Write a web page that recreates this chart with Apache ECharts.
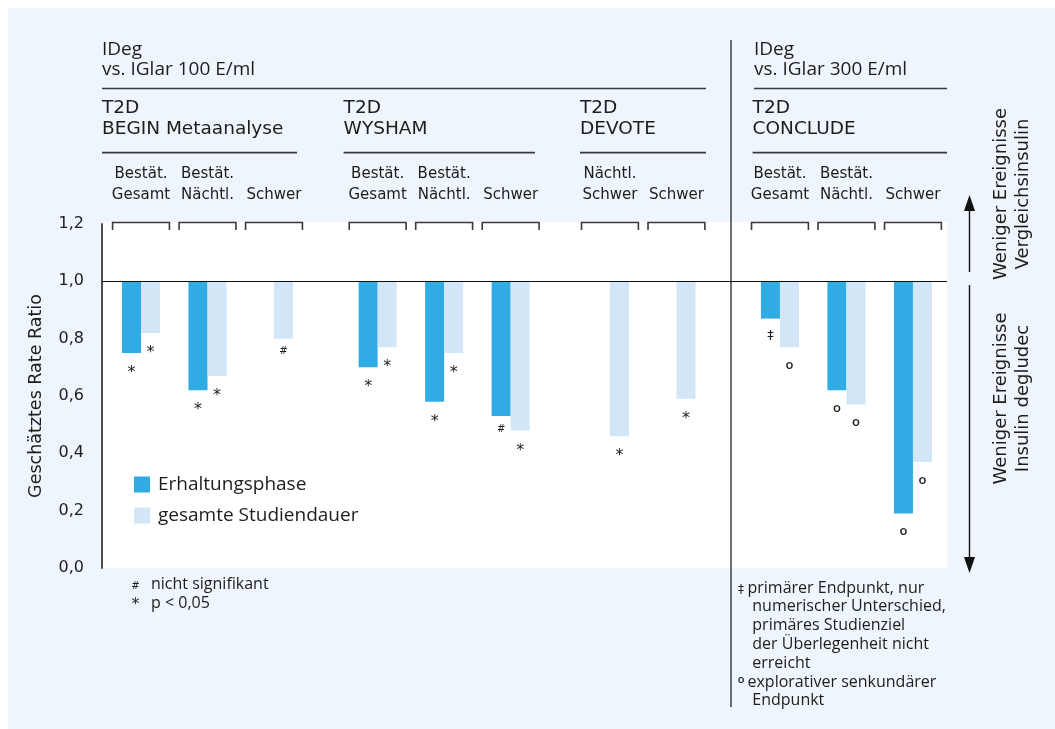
<!DOCTYPE html>
<html>
<head>
<meta charset="utf-8">
<script src="https://cdn.jsdelivr.net/npm/echarts@6/dist/echarts.min.js"></script>
<style>
  html, body { margin: 0; padding: 0; background: #ffffff; }
  #wrap { position: relative; width: 1055px; height: 729px; overflow: hidden; }
  #panel { position: absolute; left: 8px; top: 8px; right: 0; bottom: 0; background: #eef5fc; }
  #chart { position: absolute; left: 0; top: 0; width: 1055px; height: 729px; }
</style>
</head>
<body>
<div id="wrap"><div id="panel"></div><div id="chart"></div></div>
<script>
// ---------- data ----------
const yTicks = [0, 0.2, 0.4, 0.6, 0.8, 1.0, 1.2];
const baseline = 1.0;                       // rate ratio of 1 = no difference
const seriesNames = ['Erhaltungsphase', 'gesamte Studiendauer'];
const yAxisTitle = 'Geschätztes Rate Ratio';
const comparisons = ['IDeg\nvs. IGlar 100 E/ml', 'IDeg\nvs. IGlar 300 E/ml'];
const studies = ['T2D\nBEGIN Metaanalyse', 'T2D\nWYSHAM', 'T2D\nDEVOTE', 'T2D\nCONCLUDE'];

const beginEndpoints = ['Bestät.\nGesamt', 'Bestät.\nNächtl.', 'Schwer'];
const beginMaintenance = [0.75, 0.62, null];
const beginTotal = [0.82, 0.67, 0.80];
const beginMaintenanceSig = ['*', '*', ''];
const beginTotalSig = ['*', '*', '#'];

const wyshamEndpoints = ['Bestät.\nGesamt', 'Bestät.\nNächtl.', 'Schwer'];
const wyshamMaintenance = [0.70, 0.58, 0.53];
const wyshamTotal = [0.77, 0.75, 0.48];
const wyshamMaintenanceSig = ['*', '*', '#'];
const wyshamTotalSig = ['*', '*', '*'];

const devoteEndpoints = ['Nächtl.\nSchwer', 'Schwer'];
const devoteMaintenance = [null, null];
const devoteTotal = [0.46, 0.59];
const devoteMaintenanceSig = ['', ''];
const devoteTotalSig = ['*', '*'];

const concludeEndpoints = ['Bestät.\nGesamt', 'Bestät.\nNächtl.', 'Schwer'];
const concludeMaintenance = [0.87, 0.62, 0.19];
const concludeTotal = [0.77, 0.57, 0.37];
const concludeMaintenanceSig = ['‡', 'o', 'o'];
const concludeTotalSig = ['o', 'o', 'o'];

const sideLabels = ['Weniger Ereignisse\nVergleichsinsulin', 'Weniger Ereignisse\nInsulin degludec'];
const notesLeft = [['#', 'nicht signifikant'], ['*', 'p < 0,05']];
const notesRight = [
  ['‡', ['primärer Endpunkt, nur', 'numerischer Unterschied,', 'primäres Studienziel', 'der Überlegenheit nicht', 'erreicht']],
  ['o', ['explorativer senkundärer', 'Endpunkt']]
];

// ---------- styling ----------
const DARK = '#31abe3';
const LIGHT = '#d2e6f8';
const INK = '#1d1d1b';
const RULE = '#3a3a3a';
const HEAD = '"DejaVu Sans", sans-serif';
const BODY = '"Open Sans", sans-serif';
const BAR_FRACTION = 0.286;
const BRACKET_FRACTION = 0.855;
const MARK = {
  '*': { font: '16px "DejaVu Sans"', dy: 20 },
  '#': { font: '10px "DejaVu Sans"', dy: 13 },
  '‡': { font: '13px "DejaVu Sans"', dy: 17 },
  'o': { font: '600 13px "Open Sans"', dy: 18 }
};

const blocks = [
  { cats: beginEndpoints, m: beginMaintenance, t: beginTotal, ms: beginMaintenanceSig, ts: beginTotalSig },
  { cats: wyshamEndpoints, m: wyshamMaintenance, t: wyshamTotal, ms: wyshamMaintenanceSig, ts: wyshamTotalSig },
  { cats: devoteEndpoints, m: devoteMaintenance, t: devoteTotal, ms: devoteMaintenanceSig, ts: devoteTotalSig },
  { cats: concludeEndpoints, m: concludeMaintenance, t: concludeTotal, ms: concludeMaintenanceSig, ts: concludeTotalSig }
];

// layout of the plot and of each study block
const PLOT = { left: 102, right: 108, top: 224, bottom: 161 };
const blockGrids = [
  { left: 107.75, width: 199.5 },
  { left: 344.4, width: 199.5 },
  { left: 576.7, width: 133 },
  { left: 746.7, width: 199.5 }
];

const fmt = v => v.toFixed(1).replace('.', ',');

function barRenderer(side, values, sigs) {
  return function (params, api) {
    const v = values[params.dataIndex];
    if (v == null) return null;
    const cat = api.value(0);
    const band = api.size([1, 0])[0];
    const w = band * BAR_FRACTION;
    const end = api.coord([cat, v]);
    const base = api.coord([cat, baseline]);
    const x = side < 0 ? end[0] - w : end[0];
    const children = [{
      type: 'rect',
      shape: { x: x, y: base[1], width: w, height: end[1] - base[1] },
      style: { fill: side < 0 ? DARK : LIGHT }
    }];
    const s = sigs[params.dataIndex];
    if (s) {
      children.push({
        type: 'text',
        style: {
          text: s, x: x + w / 2, y: end[1] + MARK[s].dy,
          align: 'center', verticalAlign: 'middle', font: MARK[s].font, fill: INK
        }
      });
    }
    return { type: 'group', children: children };
  };
}

function bracketRenderer(params, api) {
  const cat = api.value(0);
  const band = api.size([1, 0])[0];
  const hw = band * BRACKET_FRACTION / 2;
  const top = api.coord([cat, yTicks[yTicks.length - 1]]);
  const y = top[1] - 1.5;
  return {
    type: 'polyline',
    shape: { points: [[top[0] - hw, y + 7.5], [top[0] - hw, y], [top[0] + hw, y], [top[0] + hw, y + 7.5]] },
    style: { stroke: RULE, lineWidth: 1.6, fill: null }
  };
}

const grids = [Object.assign({ show: true, backgroundColor: '#ffffff', borderWidth: 0 }, PLOT)]
  .concat(blockGrids.map(g => ({ left: g.left, width: g.width, top: PLOT.top, bottom: PLOT.bottom })));

const xAxes = [{ gridIndex: 0, type: 'value', min: 0, max: 1, show: false }]
  .concat(blocks.map((b, i) => ({
    gridIndex: i + 1, type: 'category', data: b.cats, position: 'top',
    axisLine: { show: false }, axisTick: { show: false }, splitLine: { show: false },
    axisLabel: { interval: 0, margin: 18, fontFamily: HEAD, fontSize: 15, lineHeight: 21, color: INK }
  })));

const yMin = yTicks[0], yMax = yTicks[yTicks.length - 1];
const yAxes = [{
  gridIndex: 0, type: 'value', min: yMin, max: yMax, interval: yTicks[1] - yTicks[0],
  axisLine: { show: true, lineStyle: { color: '#4d4d4d', width: 2 } },
  axisTick: { show: false }, splitLine: { show: false },
  axisLabel: { formatter: fmt, fontFamily: HEAD, fontSize: 16, color: INK, margin: 18 },
  name: yAxisTitle, nameLocation: 'middle', nameRotate: 90, nameGap: 57,
  nameTextStyle: { fontFamily: HEAD, fontSize: 17.5, color: INK }
}].concat(blocks.map((b, i) => ({ gridIndex: i + 1, type: 'value', min: yMin, max: yMax, show: false })));

const series = [{
  type: 'custom', xAxisIndex: 0, yAxisIndex: 0, silent: true, z: 5,
  data: [[0, baseline]],
  renderItem: function (params, api) {
    const cs = params.coordSys;
    const y = Math.round(api.coord([0, baseline])[1]) + 0.5;
    return { type: 'line', shape: { x1: cs.x, y1: y, x2: cs.x + cs.width, y2: y }, style: { stroke: '#111', lineWidth: 1.2 } };
  }
}];
blocks.forEach((b, i) => {
  const ax = { xAxisIndex: i + 1, yAxisIndex: i + 1 };
  series.push(Object.assign({
    type: 'custom', silent: true, data: b.cats.map((c, k) => [k, yMax]), renderItem: bracketRenderer
  }, ax));
  series.push(Object.assign({
    type: 'custom', name: seriesNames[0], itemStyle: { color: DARK }, z: 3,
    data: b.m.map((v, k) => [k, v == null ? baseline : v]), renderItem: barRenderer(-1, b.m, b.ms)
  }, ax));
  series.push(Object.assign({
    type: 'custom', name: seriesNames[1], itemStyle: { color: LIGHT }, z: 3,
    data: b.t.map((v, k) => [k, v == null ? baseline : v]), renderItem: barRenderer(1, b.t, b.ts)
  }, ax));
});

// ---------- headers, rules, arrows and notes ----------
const g = [];
const hline = (x1, x2, y) => g.push({ type: 'line', silent: true, shape: { x1: x1, y1: y, x2: x2, y2: y }, style: { stroke: RULE, lineWidth: 1.7 } });
const text = (s, x, y, font, extra) => g.push({ type: 'text', silent: true, style: Object.assign({ text: s, x: x, y: y, font: font, fill: INK, verticalAlign: 'top' }, extra || {}) });

// white strip so the brackets sit on the plot's top edge
g.push({ type: 'rect', silent: true, z: -1, shape: { x: PLOT.left, y: 222, width: 1055 - PLOT.left - PLOT.right, height: PLOT.top - 222 + 1 }, style: { fill: '#ffffff' } });

// panel divider between IGlar 100 and IGlar 300 comparisons
g.push({ type: 'line', silent: true, shape: { x1: 731, y1: 40, x2: 731, y2: 707 }, style: { stroke: '#111', lineWidth: 1.2 } });

text(comparisons[0], 102, 40, '19px "Open Sans"', { lineHeight: 20 });
text(comparisons[1], 754, 40, '19px "Open Sans"', { lineHeight: 20 });
hline(102, 706, 88.5);
hline(754, 947, 88.5);

const studyX = [[102, 297], [343.6, 535], [580, 706], [752.6, 947]];
studies.forEach((s, i) => {
  text(s, studyX[i][0], 98, '18.5px "DejaVu Sans"', { lineHeight: 20.5 });
  hline(studyX[i][0], studyX[i][1], 152.7);
});

// direction arrows with their captions
const AX = 969.5;
g.push({ type: 'line', silent: true, shape: { x1: AX, y1: 272, x2: AX, y2: 205 }, style: { stroke: '#111', lineWidth: 1.4 } });
g.push({ type: 'polygon', silent: true, shape: { points: [[AX, 195], [AX - 5.5, 211], [AX + 5.5, 211]] }, style: { fill: '#111' } });
g.push({ type: 'line', silent: true, shape: { x1: AX, y1: 285, x2: AX, y2: 562 }, style: { stroke: '#111', lineWidth: 1.4 } });
g.push({ type: 'polygon', silent: true, shape: { points: [[AX, 573], [AX - 5.5, 557], [AX + 5.5, 557]] }, style: { fill: '#111' } });
[[sideLabels[0], 194], [sideLabels[1], 398.5]].forEach(([s, cy]) => {
  g.push({
    type: 'text', silent: true, x: 1012, y: cy, rotation: Math.PI / 2,
    style: { text: s, x: 0, y: 0, align: 'center', verticalAlign: 'middle', font: '18px "DejaVu Sans"', lineHeight: 22, fill: INK }
  });
});

// significance notes
const NOTE_FONT = '16px "Open Sans"';
const NOTE_LH = 18.8;
notesLeft.forEach(([sym, s], i) => {
  const cy = 586 + i * 19;
  text(sym, 135.5, cy, sym === '#' ? '10px "DejaVu Sans"' : '16px "DejaVu Sans"', { align: 'center', verticalAlign: 'middle' });
  text(s, 151, cy - 2, NOTE_FONT, { verticalAlign: 'middle' });
});
let line = 0;
notesRight.forEach(([sym, lines]) => {
  const cy = 590 + line * NOTE_LH;
  text(sym, 741, cy - (sym === 'o' ? 4 : 0), sym === 'o' ? '600 11px "Open Sans"' : '12px "DejaVu Sans"', { align: 'center', verticalAlign: 'middle' });
  lines.forEach((s, k) => {
    text(s, k === 0 ? 747.5 : 752.3, 590 + (line + k) * NOTE_LH - 2, NOTE_FONT, { verticalAlign: 'middle' });
  });
  line += lines.length;
});

const option = {
  animation: false,
  backgroundColor: 'transparent',
  textStyle: { fontFamily: HEAD },
  grid: grids,
  xAxis: xAxes,
  yAxis: yAxes,
  legend: {
    data: seriesNames, orient: 'vertical', left: 134, top: 475, padding: 0,
    itemWidth: 16, itemHeight: 16, itemGap: 12, icon: 'rect', selectedMode: false,
    textStyle: { fontFamily: BODY, fontSize: 19, lineHeight: 16, color: INK, padding: [0, 0, 0, 3] }
  },
  series: series,
  graphic: g
};

const chart = echarts.init(document.getElementById('chart'));
chart.setOption(option);
</script>
</body>
</html>
